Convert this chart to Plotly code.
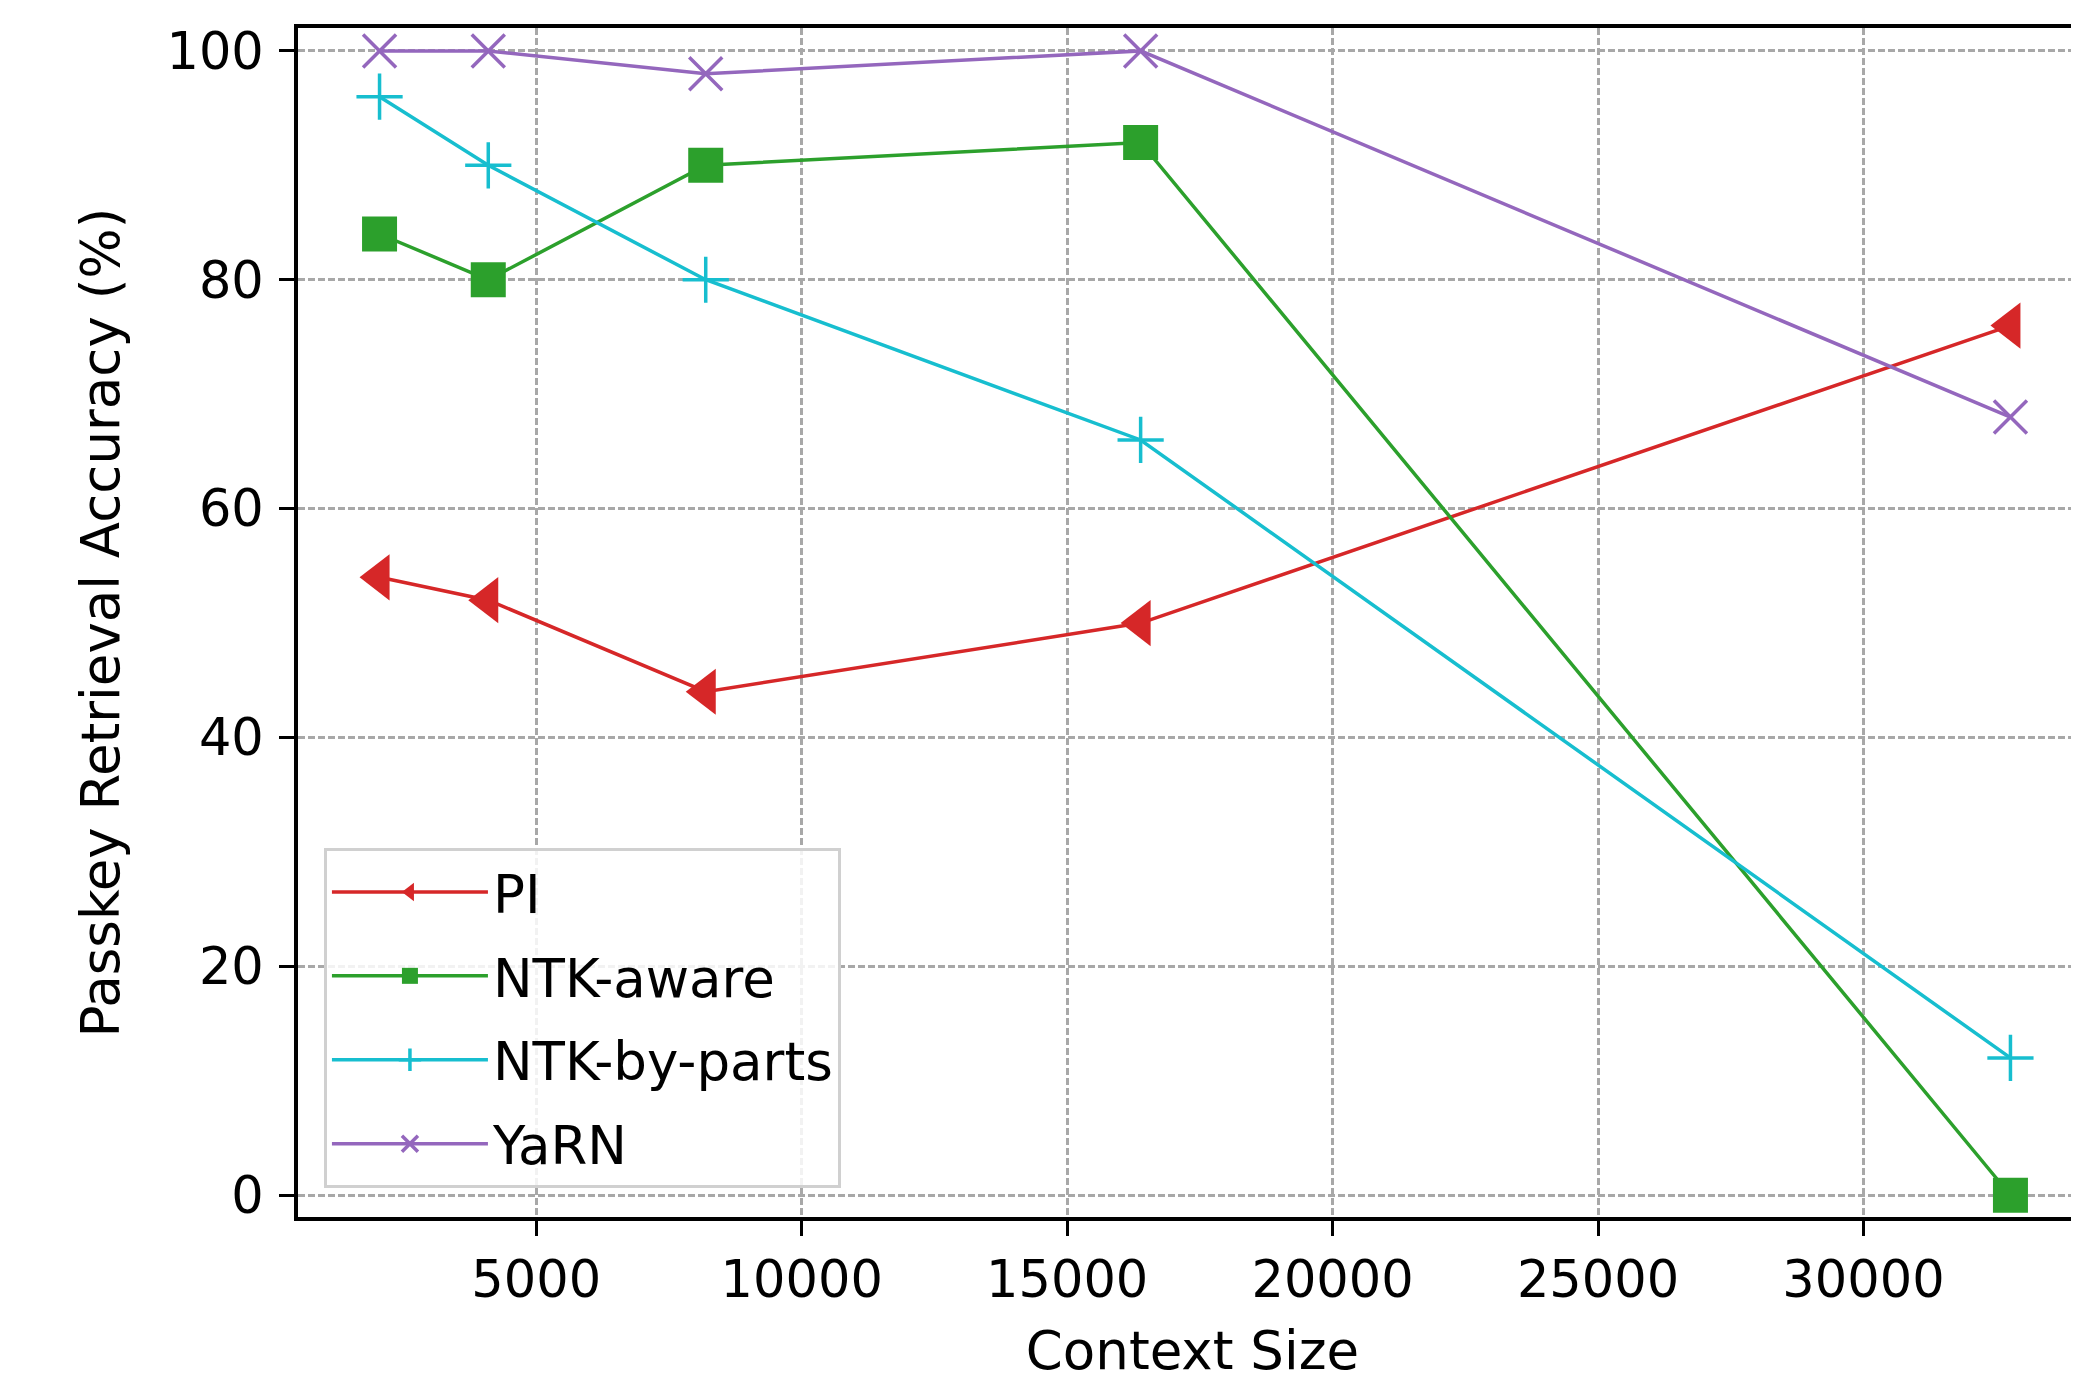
import plotly.graph_objects as go

context_sizes = [2048, 4096, 8192, 16384, 32768]
pi_acc = [54, 52, 44, 50, 76]
ntk_aware_acc = [84, 80, 90, 92, 0]
ntk_by_parts_acc = [96, 90, 80, 66, 12]
yarn_acc = [100, 100, 98, 100, 68]

series_names = ["PI", "NTK-aware", "NTK-by-parts", "YaRN"]
x_ticks = [5000, 10000, 15000, 20000, 25000, 30000]
y_ticks = [0, 20, 40, 60, 80, 100]

FONT = "DejaVu Sans"
W, H = 2079, 1373
# the page body adds an 8px offset; margins compensate
L, R, T, B = 290, 0, 20, 164

styles = [
    dict(color="#d62728", symbol="triangle-left", size=40, lw=0),
    dict(color="#2ca02c", symbol="square", size=35, lw=0),
    dict(color="#17becf", symbol="cross-thin", size=33, lw=3.5),
    dict(color="#9467bd", symbol="x-thin", size=33, lw=3.5),
]
all_vals = [pi_acc, ntk_aware_acc, ntk_by_parts_acc, yarn_acc]

fig = go.Figure()
for name, vals, st in zip(series_names, all_vals, styles):
    fig.add_trace(go.Scatter(
        x=context_sizes, y=vals, name=name, mode="lines+markers",
        legendgroup=name,
        line=dict(color=st["color"], width=3.5),
        marker=dict(symbol=st["symbol"], size=st["size"], color=st["color"],
                    line=dict(color=st["color"], width=st["lw"])),
    ))

axis_common = dict(
    showline=True, linecolor="black", linewidth=4,
    ticks="outside", ticklen=15, tickwidth=3, tickcolor="black",
    showgrid=True, gridcolor="#a8a8a8", gridwidth=2.5, griddash="7px,3px",
    zeroline=False, automargin=False,
    tickfont=dict(family=FONT, size=51, color="black"),
)

fig.update_layout(
    width=W, height=H,
    margin=dict(l=L, r=R, t=T, b=B),
    paper_bgcolor="white", plot_bgcolor="white",
    font=dict(family=FONT, size=51, color="black"),
    showlegend=True,
    legend=dict(
        x=0.0145, y=0.0244, xanchor="left", yanchor="bottom",
        bgcolor="rgba(255,255,255,0.85)", bordercolor="#d0d0d0", borderwidth=3,
        font=dict(family=FONT, size=53, color="black"),
        tracegroupgap=12, itemwidth=156,
    ),
    xaxis=dict(
        **axis_common, range=[512, 34210], tickvals=x_ticks,
        ticktext=[str(v) for v in x_ticks], mirror=True,
        title=dict(text="Context Size", font=dict(family=FONT, size=53), standoff=40),
    ),
    yaxis=dict(
        **axis_common, range=[-1.9, 102.0], tickvals=y_ticks,
        ticktext=[str(v) for v in y_ticks], ticklabelstandoff=5,
        title=dict(text="Passkey Retrieval Accuracy (%)", font=dict(family=FONT, size=53), standoff=31),
    ),
)

fig.write_html("out.html")
